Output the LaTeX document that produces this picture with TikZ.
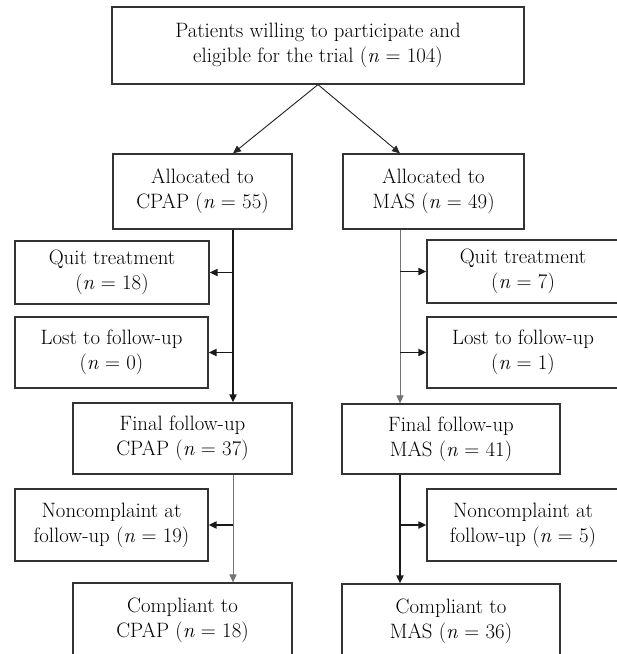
\documentclass[tikz,border=0pt]{standalone}
\usepackage{tikz}
\usetikzlibrary{arrows.meta,calc}
\tikzset{
>={Triangle[length=8pt,width=7pt]},
main node/.style={draw=black!80,line width=1.2pt,align=center,inner sep=0pt,font=\fontsize{20.8}{25}\selectfont},
freccia/.style={->,line width=0.9pt,draw=black!85,fill=black!85},
grossa/.style={->,line width=1.8pt,draw=black!90},
sottile/.style={->,line width=1pt,draw=black!55}}

\begin{document}
\begin{tikzpicture}[x=1pt,y=-1pt]

\useasboundingbox (0,0) rectangle (617,654);
\clip (0,0) rectangle (617,654);

\node[main node,minimum width=412pt,minimum height=77pt] (1) at (318,45.5) {Patients willing to participate and\\eligible for the trial (\textit{n} = 104)};
\node[main node,minimum width=179pt,minimum height=75pt] (2) at (202.5,191.5) {Allocated to\\CPAP (\textit{n} = 55)};
\node[main node,minimum width=181pt,minimum height=75pt] (3) at (433.5,191.5) {Allocated to\\MAS (\textit{n} = 49)};

\node[main node,minimum width=194pt,minimum height=63pt] (4) at (112,272.5) {Quit treatment\\(\textit{n} = 18)};
\node[main node,minimum width=193pt,minimum height=71pt] (5) at (111.5,352.5) {Lost to follow-up\\(\textit{n} = 0)};
\node[main node,minimum width=219pt,minimum height=71pt] (6) at (182.5,438.5) {Final follow-up\\CPAP (\textit{n} = 37)};
\node[main node,minimum width=193pt,minimum height=72pt] (7) at (111.5,525) {Noncomplaint at\\follow-up (\textit{n} = 19)};
\node[main node,minimum width=219pt,minimum height=74pt] (8) at (182.5,620) {Compliant to\\CPAP (\textit{n} = 18)};

\node[main node,minimum width=192pt,minimum height=63pt] (9) at (523,271.5) {Quit treatment\\(\textit{n} = 7)};
\node[main node,minimum width=192pt,minimum height=71pt] (10) at (523,352.5) {Lost to follow-up\\(\textit{n} = 1)};
\node[main node,minimum width=218pt,minimum height=70pt] (11) at (451,439) {Final follow-up\\MAS (\textit{n} = 41)};
\node[main node,minimum width=192pt,minimum height=72pt] (12) at (523,525) {Noncomplaint at\\follow-up (\textit{n} = 5)};
\node[main node,minimum width=218pt,minimum height=74pt] (13) at (451,621) {Compliant to\\MAS (\textit{n} = 36)};

\coordinate (c) at (233,0);
\coordinate (m) at (400,0);

\draw[freccia] (1.south) -- (2.north -| c);
\draw[freccia] (1.south) -- (3.north -| m);

\draw[grossa] (2.south -| c) -- (6.north -| c);
\draw[grossa] (4.east -| c) -- (4.east);
\draw[grossa] (5.east -| c) -- (5.east);
\draw[sottile] (6.south -| c) -- (8.north -| c);
\draw[grossa] (7.east -| c) -- (7.east);

\draw[sottile] (3.south -| m) -- (11.north -| m);
\draw[grossa] (9.west -| m) -- (9.west);
\draw[grossa] (10.west -| m) -- (10.west);
\draw[grossa] (11.south -| m) -- (13.north -| m);
\draw[grossa] (12.west -| m) -- (12.west);

\end{tikzpicture}
\end{document}
